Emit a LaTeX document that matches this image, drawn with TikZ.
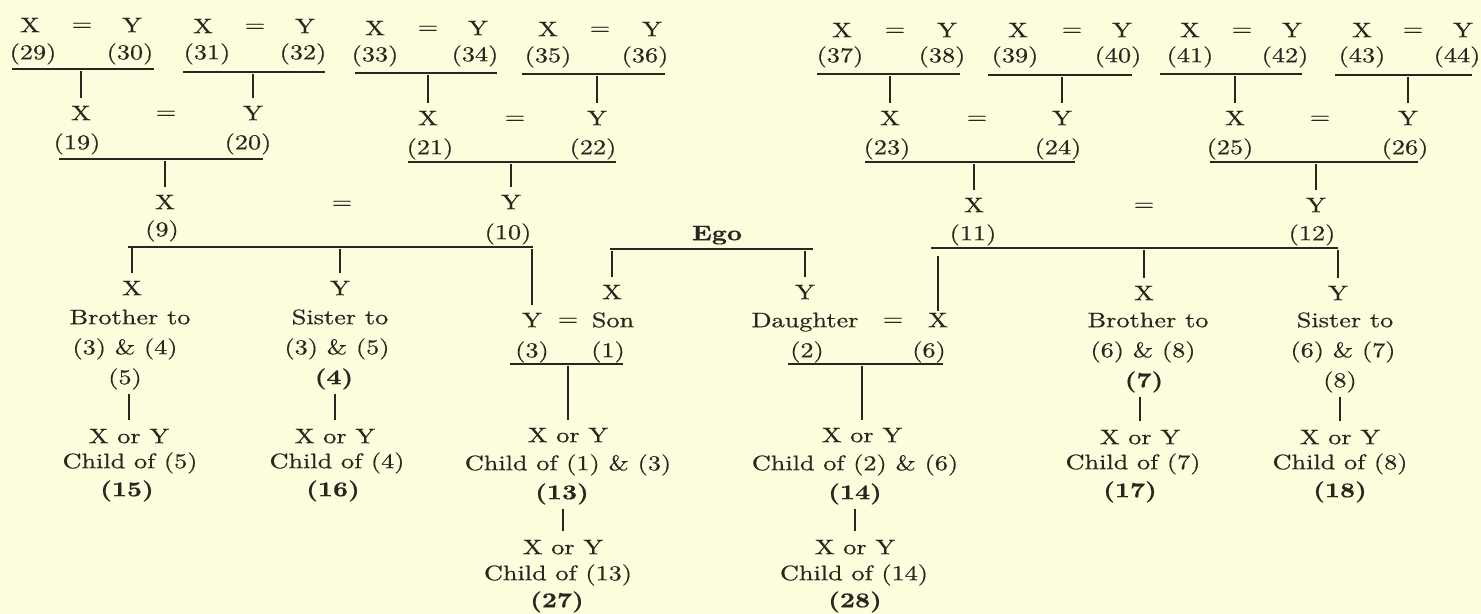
\documentclass[tikz,border=0pt]{standalone}
\usepackage{fontspec}
\setmainfont{Latin Modern Roman}[FakeStretch=1.25, FakeBold=0.6]
\definecolor{paper}{RGB}{253,252,221}
\definecolor{ink}{RGB}{40,38,30}
\begin{document}
\begin{tikzpicture}[x=0.5pt,y=-0.5pt,
  every node/.style={inner sep=0pt, text height=7.2pt, text depth=0pt,
    font=\fontsize{10.5}{12}\selectfont, text=ink},
  eq/.style={yshift=0.8pt},
  mline/.style={draw=ink, line width=0.55pt},
  drop/.style={draw=ink, line width=0.55pt, shorten <=0.8pt, shorten >=3.5pt},
  desc/.style={draw=ink, line width=0.55pt, shorten <=4.5pt, shorten >=4pt},
  thickdrop/.style={draw=ink, line width=1.3pt, shorten <=4pt, shorten >=0.8pt}]
\fill[paper] (0,0) rectangle (1481,614);
\useasboundingbox (0,0) rectangle (1481,614);

% ---------- row 1 ----------
\node (x29) at (30,25) {X};   \node[eq] (q29) at (82,25) {=};   \node (y30) at (132,25) {Y};
\node (n29) at (33,52) {(29)}; \node (n30) at (130,52) {(30)};
\coordinate (l29a) at (12,69); \coordinate (l29b) at (154,69);

\node (x31) at (203,26) {X};  \node[eq] (q31) at (255,26) {=};  \node (y32) at (305,26) {Y};
\node (n31) at (207,52) {(31)}; \node (n32) at (303,52) {(32)};
\coordinate (l31a) at (183,72); \coordinate (l31b) at (325,72);

\node (x33) at (375,28) {X};  \node[eq] (q33) at (428,28) {=};  \node (y34) at (478,28) {Y};
\node (n33) at (375,54) {(33)}; \node (n34) at (475,54) {(34)};
\coordinate (l33a) at (355,73); \coordinate (l33b) at (497,73);

\node (x35) at (548,29) {X};  \node[eq] (q35) at (600,29) {=};  \node (y36) at (652,29) {Y};
\node (n35) at (548,55) {(35)}; \node (n36) at (645,55) {(36)};
\coordinate (l35a) at (522,74); \coordinate (l35b) at (665,74);

\node (x37) at (842,30) {X};  \node[eq] (q37) at (895,30) {=};  \node (y38) at (947,30) {Y};
\node (n37) at (840,55) {(37)}; \node (n38) at (942,55) {(38)};
\coordinate (l37a) at (817,74); \coordinate (l37b) at (960,74);

\node (x39) at (1018,30) {X}; \node[eq] (q39) at (1072,30) {=}; \node (y40) at (1122,30) {Y};
\node (n39) at (1015,55) {(39)}; \node (n40) at (1118,55) {(40)};
\coordinate (l39a) at (988,75); \coordinate (l39b) at (1132,75);

\node (x41) at (1190,30) {X}; \node[eq] (q41) at (1242,30) {=}; \node (y42) at (1292,30) {Y};
\node (n41) at (1190,55) {(41)}; \node (n42) at (1285,55) {(42)};
\coordinate (l41a) at (1160,74); \coordinate (l41b) at (1302,74);

\node (x43) at (1362,30) {X}; \node[eq] (q43) at (1413,30) {=}; \node (y44) at (1463,30) {Y};
\node (n43) at (1362,55) {(43)}; \node (n44) at (1457,55) {(44)};
\coordinate (l43a) at (1335,75); \coordinate (l43b) at (1472,75);

% ---------- row 2 ----------
\node (x19) at (81,113) {X};   \node[eq] (q19) at (166,113) {=};  \node (y20) at (253,113) {Y};
\node (n19) at (77,142) {(19)}; \node (n20) at (248,142) {(20)};
\coordinate (l19a) at (59,159); \coordinate (l19b) at (263,159);

\node (x21) at (428,118) {X};  \node[eq] (q21) at (515,118) {=};  \node (y22) at (597,118) {Y};
\node (n21) at (430,147) {(21)}; \node (n22) at (593,147) {(22)};
\coordinate (l21a) at (408,162); \coordinate (l21b) at (616,162);

\node (x23) at (890,118) {X};  \node[eq] (q23) at (977,118) {=};  \node (y24) at (1062,118) {Y};
\node (n23) at (887,147) {(23)}; \node (n24) at (1058,147) {(24)};
\coordinate (l23a) at (865,162); \coordinate (l23b) at (1075,162);

\node (x25) at (1235,118) {X}; \node[eq] (q25) at (1320,118) {=}; \node (y26) at (1408,118) {Y};
\node (n25) at (1230,147) {(25)}; \node (n26) at (1405,147) {(26)};
\coordinate (l25a) at (1210,162); \coordinate (l25b) at (1418,162);

% ---------- row 3 ----------
\node (x9) at (165,202) {X};   \node[eq] (q9) at (342,203) {=};   \node (y10) at (511,202) {Y};
\node (n9) at (162,229) {(9)}; \node (n10) at (508,232) {(10)};
\coordinate (l9a) at (128,247); \coordinate (l9b) at (533,247);

\node (ego) at (717,233) {\textbf{Ego}};
\coordinate (lea) at (610,249); \coordinate (leb) at (813,249);

\node (x11) at (974,205) {X};  \node[eq] (q11) at (1144,205) {=}; \node (y12) at (1316,205) {Y};
\node (n11) at (973,233) {(11)}; \node (n12) at (1312,233) {(12)};
\coordinate (l11a) at (931,248); \coordinate (l11b) at (1338,248);

% ---------- row 4 ----------
\node (x5) at (132,288) {X};
\node (bro5) at (130,317) {Brother to};
\node (rel5) at (125,347) {(3) \& (4)};
\node (n5) at (125,377) {(5)};

\node (y4) at (340,288) {Y};
\node (sis4) at (340,317) {Sister to};
\node (rel4) at (337,347) {(3) \& (5)};
\node (n4) at (334,377) {\textbf{(4)}};

\node (y3) at (532,320) {Y}; \node[eq] (q3) at (568,320) {=}; \node (son) at (613,320) {Son};
\node (xson) at (612,292) {X};
\node (n3) at (532,350) {(3)}; \node (n1) at (608,350) {(1)};
\coordinate (l3a) at (510,364); \coordinate (l3b) at (623,364);

\node (ydau) at (805,292) {Y};
\node (dau) at (805,320) {Daughter}; \node[eq] (q2) at (893,320) {=}; \node (x6) at (938,320) {X};
\node (n2) at (807,350) {(2)}; \node (n6) at (929,350) {(6)};
\coordinate (l2a) at (788,364); \coordinate (l2b) at (943,364);

\node (x7) at (1144,293) {X};
\node (bro7) at (1148,320) {Brother to};
\node (rel7) at (1143,350) {(6) \& (8)};
\node (n7) at (1144,380) {\textbf{(7)}};

\node (y8) at (1338,293) {Y};
\node (sis8) at (1345,320) {Sister to};
\node (rel8) at (1343,350) {(6) \& (7)};
\node (n8) at (1340,380) {(8)};

% ---------- bottom ----------
\node (c15a) at (129,436) {X or Y};
\node (c15b) at (130,461) {Child of (5)};
\node (n15) at (127,489) {\textbf{(15)}};

\node (c16a) at (335,436) {X or Y};
\node (c16b) at (337,461) {Child of (4)};
\node (n16) at (333,489) {\textbf{(16)}};

\node (c13a) at (568,435) {X or Y};
\node (c13b) at (568,463) {Child of (1) \& (3)};
\node (n13) at (562,492) {\textbf{(13)}};
\node (c27a) at (563,547) {X or Y};
\node (c27b) at (558,573) {Child of (13)};
\node (n27) at (557,600) {\textbf{(27)}};

\node (c14a) at (862,435) {X or Y};
\node (c14b) at (855,463) {Child of (2) \& (6)};
\node (n14) at (855,492) {\textbf{(14)}};
\node (c28a) at (855,547) {X or Y};
\node (c28b) at (854,573) {Child of (14)};
\node (n28) at (855,600) {\textbf{(28)}};

\node (c17a) at (1140,437) {X or Y};
\node (c17b) at (1133,462) {Child of (7)};
\node (n17) at (1130,490) {\textbf{(17)}};

\node (c18a) at (1340,437) {X or Y};
\node (c18b) at (1340,462) {Child of (8)};
\node (n18) at (1340,490) {\textbf{(18)}};

% ---------- marriage lines ----------
\foreach \l in {l29,l31,l33,l35,l37,l39,l41,l43,l19,l21,l23,l25,l9,le,l11,l3,l2}
  \draw[mline] (\l a) -- (\l b);

% ---------- drops ----------
\draw[drop] (l29a -| x19) -- (x19.north);
\draw[drop] (l31a -| y20) -- (y20.north);
\draw[drop] (l33a -| x21) -- (x21.north);
\draw[drop] (l35a -| y22) -- (y22.north);
\draw[drop] (l37a -| x23) -- (x23.north);
\draw[drop] (l39a -| y24) -- (y24.north);
\draw[drop] (l41a -| x25) -- (x25.north);
\draw[drop] (l43a -| y26) -- (y26.north);
\draw[drop] (l19a -| x9) -- (x9.north);
\draw[drop] (l21a -| y10) -- (y10.north);
\draw[drop] (l23a -| x11) -- (x11.north);
\draw[drop] (l25a -| y12) -- (y12.north);
\draw[drop, shorten <=0pt] (l9a -| x5) -- (x5.north);
\draw[drop] (l9a -| y4) -- (y4.north);
\draw[drop] (l9a -| y3) -- (y3.north);
\draw[drop] (lea -| xson) -- (xson.north);
\draw[drop] (lea -| ydau) -- (ydau.north);
\draw[thickdrop] (l11a -| x6) -- (x6.north);
\draw[drop] (l11a -| x7) -- (x7.north);
\draw[drop] (l11a -| y8) -- (y8.north);
\draw[drop] (l3a -| c13a) -- (c13a.north);
\draw[drop] (l2a -| c14a) -- (c14a.north);

% ---------- descent ----------
\draw[desc] (n5.south -| c15a) -- (c15a.north);
\draw[desc] (n4.south -| c16a) -- (c16a.north);
\draw[desc] (n7.south -| c17a) -- (c17a.north);
\draw[desc] (n8.south -| c18a) -- (c18a.north);
\draw[desc] (n13.south -| c27a) -- (c27a.north);
\draw[desc] (n14.south -| c28a) -- (c28a.north);
\end{tikzpicture}
\end{document}
